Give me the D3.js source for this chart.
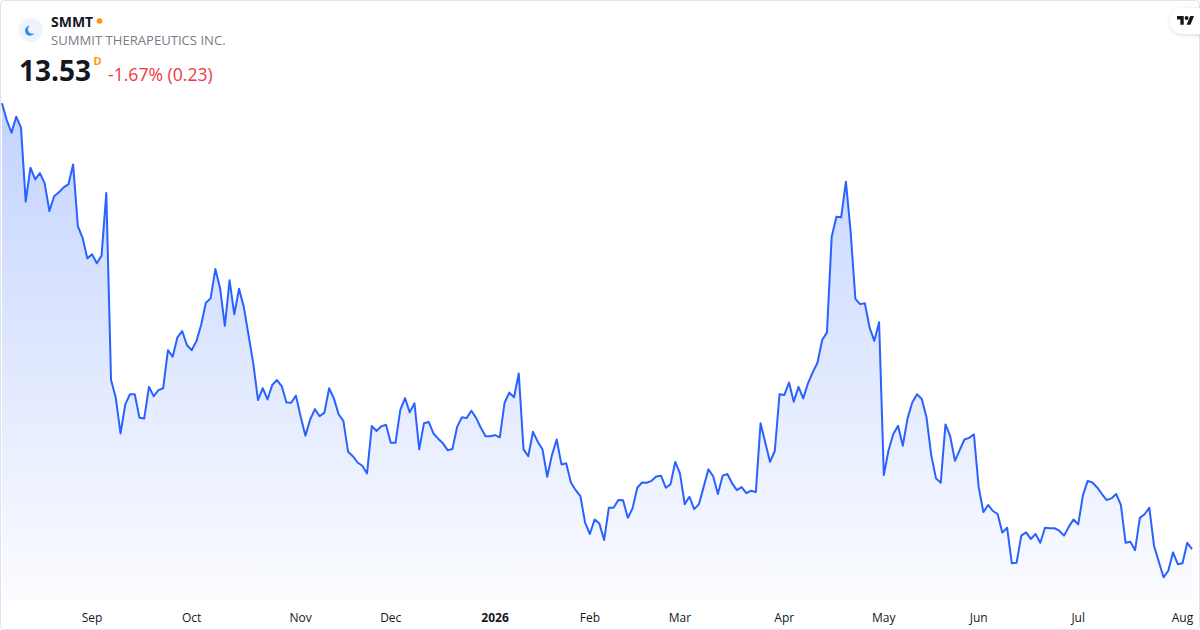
<!DOCTYPE html>
<html>
<head>
<meta charset="utf-8">
<script src="https://cdn.jsdelivr.net/npm/d3@7"></script>
<style>
  html, body { margin: 0; padding: 0; background: #fff; }
  svg { display: block; font-family: "Open Sans", "Noto Sans", sans-serif; }
</style>
</head>
<body>
<svg id="chart" width="1200" height="630"></svg>
<script>
// Daily closes, one per trading day (early Aug 2025 -> early Aug 2026)
const closes = [
  29.80, 29.19, 28.73, 29.31, 28.92, 26.21, 27.45, 27.02, 27.25, 26.88,
  25.87, 26.41, 26.55, 26.73, 26.84, 27.57, 25.32, 24.89, 24.14, 24.29,
  23.96, 24.24, 26.53, 19.70, 19.05, 17.75, 18.81, 19.18, 19.18, 18.32,
  18.30, 19.45, 19.11, 19.33, 19.40, 20.79, 20.55, 21.26, 21.49, 20.98,
  20.79, 21.12, 21.71, 22.52, 22.68, 23.75, 23.05, 21.68, 23.34, 22.10,
  23.03, 22.37, 21.34, 20.31, 18.97, 19.40, 18.99, 19.52, 19.70, 19.48,
  18.88, 18.87, 19.13, 18.36, 17.67, 18.26, 18.64, 18.38, 18.51, 19.40,
  19.03, 18.45, 18.21, 17.08, 16.92, 16.69, 16.57, 16.29, 18.02, 17.84,
  18.01, 18.07, 17.41, 17.41, 18.60, 19.04, 18.52, 18.85, 17.17, 18.12,
  18.17, 17.75, 17.56, 17.39, 17.14, 17.18, 17.99, 18.34, 18.31, 18.58,
  18.32, 17.96, 17.65, 17.65, 17.69, 17.61, 18.87, 19.24, 19.07, 19.94,
  17.17, 16.92, 17.81, 17.45, 17.17, 16.17, 16.96, 17.53, 16.62, 16.66,
  15.96, 15.68, 15.46, 14.49, 14.08, 14.61, 14.46, 13.86, 15.04, 15.04,
  15.32, 15.31, 14.67, 15.02, 15.77, 15.96, 15.95, 16.02, 16.18, 16.21,
  15.77, 15.89, 16.71, 16.29, 15.17, 15.44, 14.99, 15.17, 15.80, 16.44,
  16.19, 15.54, 16.21, 16.27, 15.93, 15.68, 15.79, 15.57, 15.66, 15.61,
  18.12, 17.41, 16.71, 17.11, 19.18, 19.15, 19.61, 18.91, 19.45, 19.03,
  19.58, 19.98, 20.33, 21.16, 21.44, 24.93, 25.66, 25.64, 26.94, 25.11,
  22.66, 22.47, 22.50, 21.61, 21.13, 21.81, 16.23, 17.14, 17.73, 18.03,
  17.30, 18.30, 18.88, 19.18, 19.01, 18.34, 16.96, 16.11, 15.95, 18.08,
  17.65, 16.75, 17.14, 17.53, 17.59, 17.72, 15.80, 14.88, 15.14, 14.92,
  14.81, 14.13, 14.31, 13.01, 13.03, 14.02, 14.14, 13.90, 14.08, 13.76,
  14.31, 14.29, 14.29, 14.20, 14.02, 14.34, 14.61, 14.43, 15.50, 16.02,
  15.96, 15.78, 15.54, 15.32, 15.38, 15.54, 15.14, 13.76, 13.80, 13.49,
  14.67, 14.80, 15.04, 13.64, 13.07, 12.50, 12.74, 13.41, 12.98, 13.01,
  13.76, 13.53
];

// Month labels and the trading-day index where each month starts
const tickLabels = ["Sep", "Oct", "Nov", "Dec", "2026", "Feb", "Mar", "Apr", "May", "Jun", "Jul", "Aug"];
const tickIndex = [19, 40, 63, 82, 104, 124, 143, 165, 186, 206, 227, 249];
const boldTicks = ["2026"];

const symbol = "SMMT";
const companyName = "SUMMIT THERAPEUTICS INC.";
const lastPrice = "13.53";
const changeText = "-1.67% (0.23)";

const W = 1200, H = 630;
const plotBottom = 600;

const svg = d3.select("#chart");
const defs = svg.append("defs");

// card
svg.append("rect")
  .attr("x", 0.5).attr("y", 0.5)
  .attr("width", W - 1).attr("height", H - 1)
  .attr("rx", 4)
  .attr("fill", "#fff")
  .attr("stroke", "#e0e3eb");

const x = d3.scaleLinear()
  .domain([0, closes.length - 1])
  .range([2, 1192]);

const y = d3.scaleLinear()
  .domain(d3.extent(closes))
  .range([577.3, 103.3]);

const grad = defs.append("linearGradient")
  .attr("id", "areaFill")
  .attr("gradientUnits", "userSpaceOnUse")
  .attr("x1", 0).attr("x2", 0)
  .attr("y1", y(d3.max(closes))).attr("y2", plotBottom);
grad.append("stop").attr("offset", 0).attr("stop-color", "#2962ff").attr("stop-opacity", 0.28);
grad.append("stop").attr("offset", 1).attr("stop-color", "#2962ff").attr("stop-opacity", 0.02);

const area = d3.area()
  .x((d, i) => x(i))
  .y0(plotBottom)
  .y1(d => y(d));

const line = d3.line()
  .x((d, i) => x(i))
  .y(d => y(d));

svg.append("path")
  .datum(closes)
  .attr("d", area)
  .attr("fill", "url(#areaFill)");

svg.append("path")
  .datum(closes)
  .attr("d", line)
  .attr("fill", "none")
  .attr("stroke", "#2962ff")
  .attr("stroke-width", 2)
  .attr("stroke-linejoin", "round");

// x axis labels (no axis line)
svg.append("g")
  .selectAll("text")
  .data(tickLabels)
  .join("text")
  .attr("x", (d, i) => x(tickIndex[i]))
  .attr("y", 621.5)
  .attr("text-anchor", "middle")
  .attr("font-size", 12)
  .attr("font-weight", d => boldTicks.includes(d) ? 700 : 400)
  .attr("fill", "#131722")
  .text(d => d);

// header: logo
svg.append("circle")
  .attr("cx", 30.5).attr("cy", 30)
  .attr("r", 12)
  .attr("fill", "#eef2fa");
svg.append("circle")
  .attr("cx", 30).attr("cy", 30.8)
  .attr("r", 5)
  .attr("fill", "#2b8fe3");
svg.append("circle")
  .attr("cx", 32.6).attr("cy", 29.2)
  .attr("r", 4.6)
  .attr("fill", "#eef2fa");

svg.append("text")
  .attr("x", 51).attr("y", 26.5)
  .attr("font-size", 14)
  .attr("font-weight", 700)
  .attr("fill", "#131722")
  .text(symbol);
svg.append("circle")
  .attr("cx", 99.5).attr("cy", 21)
  .attr("r", 2.8)
  .attr("fill", "#ff9800");

svg.append("text")
  .attr("x", 51).attr("y", 45.3)
  .attr("font-size", 13.1)
  .attr("fill", "#787b86")
  .text(companyName);

svg.append("text")
  .attr("x", 19).attr("y", 81)
  .attr("font-size", 28)
  .attr("font-weight", 700)
  .attr("fill", "#131722")
  .text(lastPrice);
svg.append("text")
  .attr("x", 93.5).attr("y", 65)
  .attr("font-size", 11)
  .attr("font-weight", 700)
  .attr("fill", "#ff9800")
  .text("D");
svg.append("text")
  .attr("x", 108).attr("y", 81)
  .attr("font-size", 17.6)
  .attr("fill", "#f23645")
  .text(changeText);

// TradingView badge top right
const shadow = defs.append("filter").attr("id", "badgeShadow")
  .attr("x", "-50%").attr("y", "-50%").attr("width", "200%").attr("height", "200%");
shadow.append("feDropShadow")
  .attr("dx", 0).attr("dy", 1).attr("stdDeviation", 2)
  .attr("flood-color", "#000").attr("flood-opacity", 0.15);

svg.append("rect")
  .attr("x", 1170).attr("y", 8)
  .attr("width", 44).attr("height", 26)
  .attr("rx", 13)
  .attr("fill", "#fff")
  .attr("filter", "url(#badgeShadow)");

svg.append("g")
  .attr("transform", "translate(1177,14.2) scale(0.48)")
  .call(g => {
    g.append("path").attr("d", "M14 22H7V11H0V4h14v18z").attr("fill", "#131722");
    g.append("path").attr("d", "M28 22h-8l7.5-18h8L28 22z").attr("fill", "#131722");
    g.append("circle").attr("cx", 20).attr("cy", 8).attr("r", 4).attr("fill", "#131722");
  });
</script>
</body>
</html>
